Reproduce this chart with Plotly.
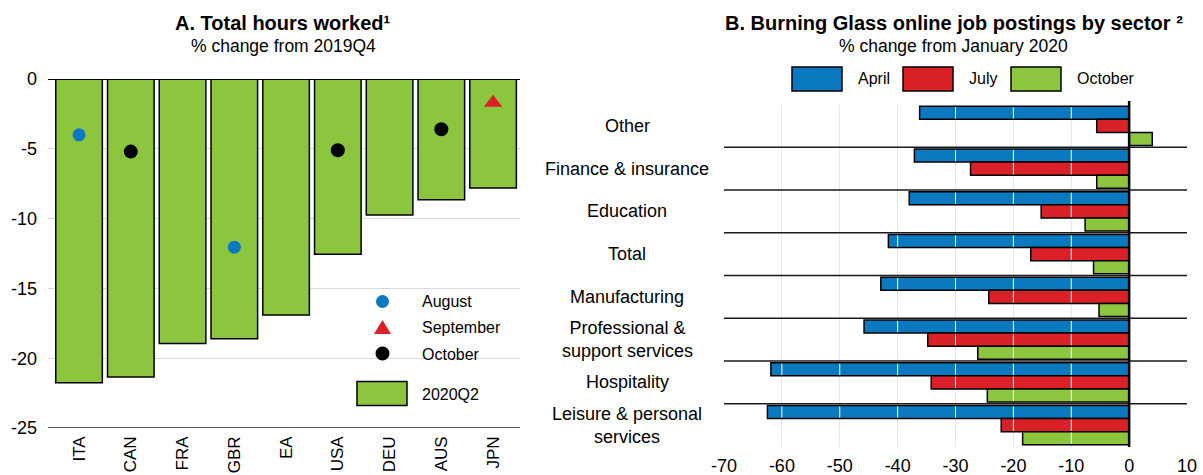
import plotly.graph_objects as go

# ---------------- data ----------------
countries = ["ITA", "CAN", "FRA", "GBR", "EA", "USA", "DEU", "AUS", "JPN"]
hours_2020q2 = [-21.75, -21.35, -18.95, -18.6, -16.9, -12.55, -9.75, -8.65, -7.8]
aug_countries = ["ITA", "GBR"]
aug_values = [-4.0, -12.05]
sep_countries = ["JPN"]
sep_values = [-1.7]
oct_countries = ["CAN", "USA", "AUS"]
oct_values = [-5.2, -5.1, -3.6]
hours_ticks = [0, -5, -10, -15, -20, -25]

sectors = ["Other", "Finance & insurance", "Education", "Total", "Manufacturing",
           "Professional &<br>support services", "Hospitality",
           "Leisure & personal<br>services"]
april = [-36.2, -37.1, -38.0, -41.6, -42.9, -45.8, -61.9, -62.5]
july = [-5.6, -27.4, -15.2, -17.0, -24.25, -34.8, -34.2, -22.1]
october = [4.0, -5.6, -7.6, -6.15, -5.2, -26.15, -24.5, -18.4]
postings_ticks = [-70, -60, -50, -40, -30, -20, -10, 0, 10]

# ---------------- style ----------------
W, H = 1203, 475
FONT = "Liberation Sans, Arial, sans-serif"
BLUE = "#0a79c0"
RED = "#da2128"
GREEN = "#8cc63f"
BARGAP = 0.085


def px(x):
    return x / W


def py(y):
    return 1 - y / H


fig = go.Figure()

# Panel A
fig.add_trace(go.Bar(x=countries, y=hours_2020q2, width=0.9, marker=dict(color=GREEN, line=dict(color="black", width=1.5)),
                     xaxis="x", yaxis="y", showlegend=False, name="2020Q2"))
fig.add_trace(go.Scatter(x=aug_countries, y=aug_values, mode="markers", name="August",
                         marker=dict(symbol="circle", size=13, color=BLUE), xaxis="x", yaxis="y", showlegend=False))
fig.add_trace(go.Scatter(x=sep_countries, y=sep_values, mode="markers", name="September",
                         marker=dict(symbol="triangle-up", size=16, color=RED), xaxis="x", yaxis="y", showlegend=False))
fig.add_trace(go.Scatter(x=oct_countries, y=oct_values, mode="markers", name="October",
                         marker=dict(symbol="circle", size=14, color="black"), xaxis="x", yaxis="y", showlegend=False))

# Panel B
series = [("April", april, BLUE), ("July", july, RED), ("October", october, GREEN)]
for name, vals, col in series:
    fig.add_trace(go.Bar(x=vals, y=sectors, orientation="h", name=name,
                         marker=dict(color=col, line=dict(color="black", width=1.5)),
                         xaxis="x2", yaxis="y2", showlegend=False))

shapes = []
# Panel A frame lines
shapes.append(dict(type="line", xref="paper", yref="y", x0=px(48), x1=px(520), y0=0, y1=0,
                   line=dict(color="black", width=2.2), layer="above"))
shapes.append(dict(type="line", xref="paper", yref="y", x0=px(48), x1=px(520), y0=-25, y1=-25,
                   line=dict(color="#5a5a5a", width=2), layer="above"))

# Panel B: white grid lines shown over bars
w = (1 - BARGAP) / 3
grid_inner = [t for t in postings_ticks if t not in (0, postings_ticks[0], postings_ticks[-1])]
for i, _ in enumerate(sectors):
    for j, (_, vals, _) in enumerate(series):
        v = vals[i]
        c = i + (j - 1) * w
        for t in grid_inner:
            if min(v, 0) < t < max(v, 0):
                shapes.append(dict(type="line", xref="x2", yref="y2", x0=t, x1=t,
                                   y0=c - w / 2 + 0.02, y1=c + w / 2 - 0.02,
                                   line=dict(color="white", width=1), layer="above"))
# Panel B group separators
for i in range(len(sectors) - 1):
    shapes.append(dict(type="line", xref="x2 domain", yref="y2", x0=0, x1=1, y0=i + 0.5, y1=i + 0.5,
                       line=dict(color="#1a1a1a", width=1.3), layer="above"))
# Panel B zero line
shapes.append(dict(type="line", xref="x2", yref="paper", x0=0, x1=0, y0=py(101), y1=py(447),
                   line=dict(color="black", width=2.5), layer="above"))

# Legend A (manual)
shapes.append(dict(type="circle", xref="paper", yref="paper", x0=px(376), x1=px(389), y0=py(295), y1=py(308),
                   fillcolor=BLUE, line=dict(width=0)))
shapes.append(dict(type="path", xref="paper", yref="paper",
                   path=f"M {px(374)} {py(334)} L {px(391)} {py(334)} L {px(382.5)} {py(320)} Z",
                   fillcolor=RED, line=dict(width=0)))
shapes.append(dict(type="circle", xref="paper", yref="paper", x0=px(375.5), x1=px(389.5), y0=py(346.5), y1=py(360.5),
                   fillcolor="black", line=dict(width=0)))
shapes.append(dict(type="rect", xref="paper", yref="paper", x0=px(357), x1=px(407), y0=py(381.5), y1=py(405.5),
                   fillcolor=GREEN, line=dict(color="black", width=1.5)))
# Legend B (manual)
for (name, _, col), x0 in zip(series, [792, 903, 1011]):
    shapes.append(dict(type="rect", xref="paper", yref="paper", x0=px(x0), x1=px(x0 + 50), y0=py(67), y1=py(91),
                       fillcolor=col, line=dict(color="black", width=1.5)))

annotations = []


def text(x, y, s, size=16, bold=False, xanchor="left", align="left", xref="paper", yref="paper"):
    annotations.append(dict(x=x, y=y, xref=xref, yref=yref, text=(f"<b>{s}</b>" if bold else s),
                            showarrow=False, xanchor=xanchor, yanchor="middle", align=align,
                            font=dict(family=FONT, size=size, color="black")))


text(px(283), py(23), "A. Total hours worked¹", size=20, bold=True, xanchor="center", align="center")
text(px(283), py(46), "% change from 2019Q4", size=17.5, xanchor="center", align="center")
text(px(954), py(23), "B. Burning Glass online job postings by sector ²", size=20, bold=True, xanchor="center", align="center")
text(px(953), py(46), "% change from January 2020", size=17.5, xanchor="center", align="center")

for lbl, y in [("August", 301), ("September", 327), ("October", 354), ("2020Q2", 394)]:
    text(px(420), py(y), lbl, size=16)
for (name, _, _), x0 in zip(series, [856, 967, 1075]):
    text(px(x0), py(79), name, size=16)

for s in sectors:
    annotations.append(dict(x=px(627), y=s, xref="paper", yref="y2", text=s, showarrow=False,
                            xanchor="center", yanchor="middle", align="center",
                            font=dict(family=FONT, size=18, color="black")))

tickfont = dict(family=FONT, size=18, color="black")

fig.update_layout(
    width=W, height=H,
    margin=dict(l=0, r=0, t=0, b=0),
    paper_bgcolor="white", plot_bgcolor="white",
    barmode="group", bargap=BARGAP, bargroupgap=0,
    showlegend=False,
    font=dict(family=FONT, size=16, color="black"),
    xaxis=dict(domain=[px(48), px(520)], anchor="y", type="category", categoryorder="array",
               categoryarray=countries, range=[-0.6, 8.52], tickangle=-90,
               tickfont=dict(family=FONT, size=17, color="black"),
               showgrid=False, showline=False, zeroline=False, ticks="", ticklabelstandoff=4,
               automargin=False),
    yaxis=dict(domain=[py(428), py(79)], anchor="x", range=[-25, 0], tickvals=hours_ticks,
               ticktext=[str(v) for v in hours_ticks],
               tickfont=tickfont, showgrid=True, gridcolor="#d9d9d9", gridwidth=1, zeroline=False,
               showline=False, ticks="", ticklabelstandoff=10, automargin=False),
    xaxis2=dict(domain=[px(724), px(1187)], anchor="y2", range=[-70, 10], tickvals=postings_ticks,
                ticktext=[str(v) for v in postings_ticks],
                tickfont=tickfont, showgrid=True, gridcolor="#e6e6f0", gridwidth=1, zeroline=False,
                showline=False, ticks="", ticklabelstandoff=6, automargin=False),
    yaxis2=dict(domain=[py(446.5), py(104.5)], anchor="x2", type="category", categoryorder="array",
                categoryarray=sectors, range=[7.5, -0.5], showticklabels=False, showgrid=False,
                zeroline=False, showline=False, ticks="", automargin=False),
    shapes=shapes,
    annotations=annotations,
)

fig.write_html("out.html", config={"displayModeBar": False},
               post_script="document.body.style.margin='0px';document.body.style.overflow='hidden';")
